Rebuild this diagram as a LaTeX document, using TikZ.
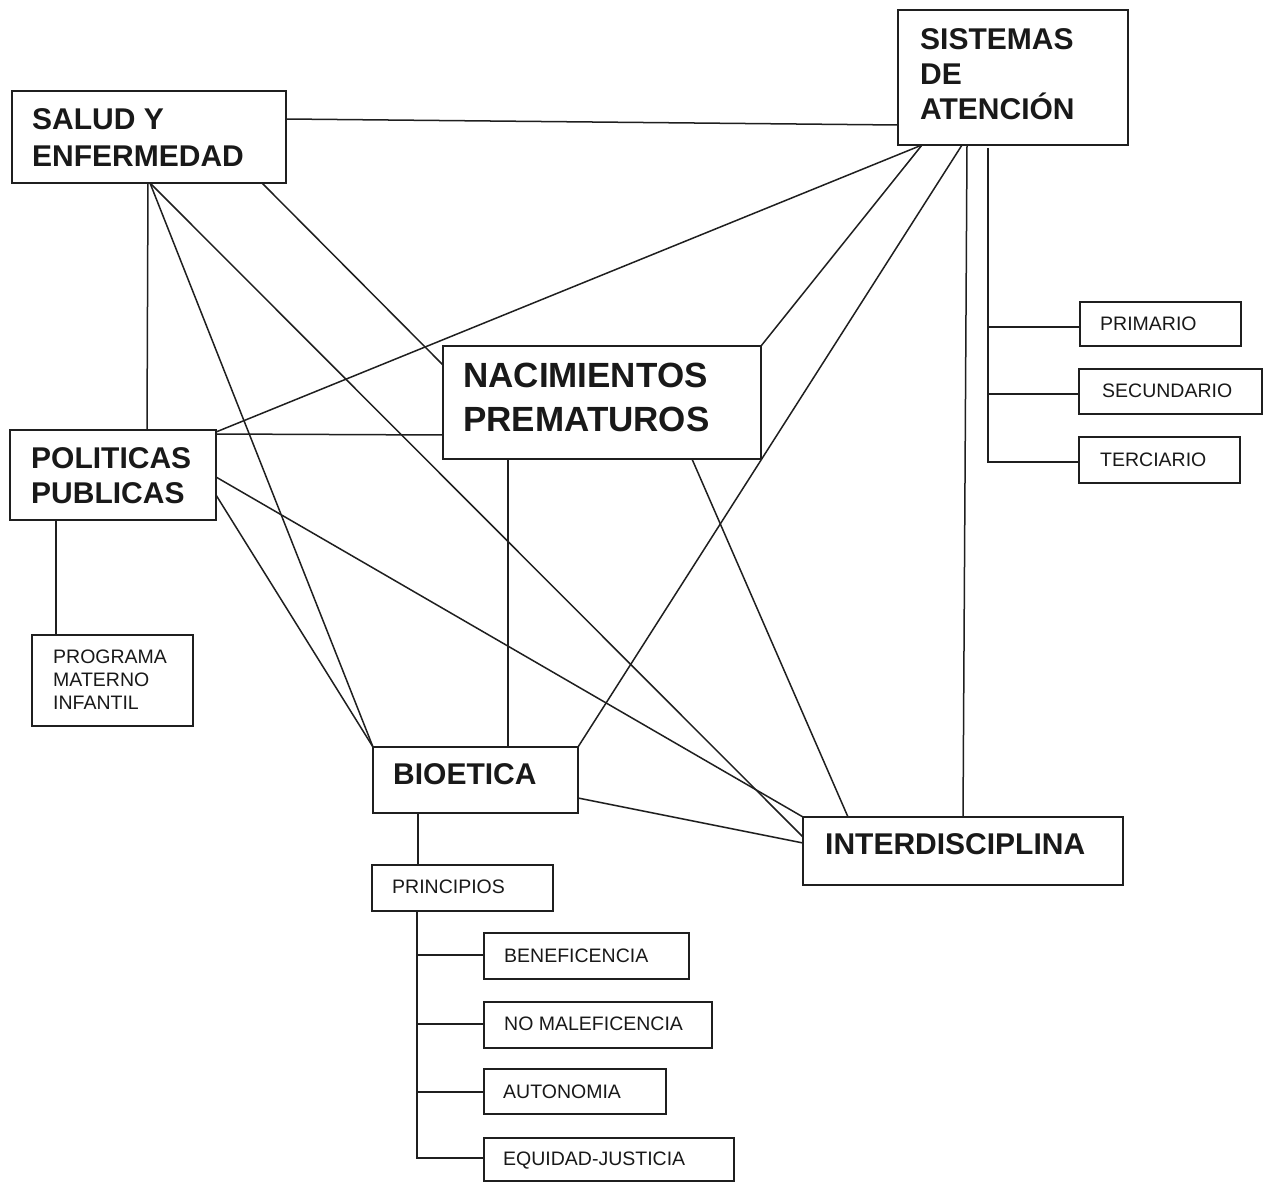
\documentclass[tikz,border=0pt]{standalone}
\usepackage{fontspec}
\setmainfont{Liberation Sans}
\usetikzlibrary{calc}
\begin{document}
\begin{tikzpicture}[x=1pt,y=-1pt,
  box/.style={draw=black!88, line width=1.6pt, rectangle, inner sep=0pt, outer sep=0pt, anchor=north west},
  big/.style={anchor=north west, inner sep=0pt, align=left, text=black!90, font=\fontsize{30}{36}\selectfont\bfseries},
  small/.style={anchor=north west, inner sep=0pt, align=left, text=black!90, font=\fontsize{19.5}{23}\selectfont},
  link/.style={line width=1.5pt, draw=black!88}]
\useasboundingbox (0,0) rectangle (1274,1182);
\fill[white] (0,0) rectangle (1274,1182);

% boxes
\node[box, minimum width=274pt, minimum height=92pt]  (salud)      at (12,91)    {};
\node[box, minimum width=230pt, minimum height=135pt] (sistemas)   at (898,10)   {};
\node[box, minimum width=318pt, minimum height=113pt] (nacim)      at (443,346)  {};
\node[box, minimum width=206pt, minimum height=90pt]  (politicas)  at (10,430)   {};
\node[box, minimum width=161pt, minimum height=91pt]  (programa)   at (32,635)   {};
\node[box, minimum width=205pt, minimum height=66pt]  (bioetica)   at (373,747)  {};
\node[box, minimum width=320pt, minimum height=68pt]  (inter)      at (803,817)  {};
\node[box, minimum width=181pt, minimum height=46pt]  (principios) at (372,865)  {};
\node[box, minimum width=205pt, minimum height=46pt]  (benef)      at (484,933)  {};
\node[box, minimum width=228pt, minimum height=46pt]  (nomal)      at (484,1002) {};
\node[box, minimum width=182pt, minimum height=45pt]  (autonomia)  at (484,1069) {};
\node[box, minimum width=250pt, minimum height=43pt]  (equidad)    at (484,1138) {};
\node[box, minimum width=161pt, minimum height=44pt]  (primario)   at (1080,302) {};
\node[box, minimum width=183pt, minimum height=45pt]  (secundario) at (1079,369) {};
\node[box, minimum width=161pt, minimum height=46pt]  (terciario)  at (1079,437) {};

% texts
\node[big, font=\fontsize{30}{37}\selectfont\bfseries] (saludT) at (32,108) {SALUD Y\\ENFERMEDAD};
\node[big, font=\fontsize{30}{35}\selectfont\bfseries] (sistemasT) at (920,28) {SISTEMAS\\DE\\ATENCIÓN};
\node[big, font=\fontsize{35}{44}\selectfont\bfseries] (nacimT) at (463,363) {NACIMIENTOS\\PREMATUROS};
\node[big, font=\fontsize{30}{35}\selectfont\bfseries] (politicasT) at (31,447) {POLITICAS\\PUBLICAS};
\node[small] (programaT) at (53,650) {PROGRAMA\\MATERNO\\INFANTIL};
\node[big] (bioeticaT) at (393,763) {BIOETICA};
\node[big] (interT) at (825,833) {INTERDISCIPLINA};
\node[small] (principiosT) at (392,880) {PRINCIPIOS};
\node[small] (benefT) at (504,949) {BENEFICENCIA};
\node[small] (nomalT) at (504,1017) {NO MALEFICENCIA};
\node[small] (autonomiaT) at (503,1085) {AUTONOMIA};
\node[small] (equidadT) at (503,1152) {EQUIDAD-JUSTICIA};
\node[small] (primarioT) at (1100,317) {PRIMARIO};
\node[small] (secundarioT) at (1102,384) {SECUNDARIO};
\node[small] (terciarioT) at (1100,453) {TERCIARIO};

% connectors
\draw[link] ($(salud.north east)+(0,28)$) -- ($(sistemas.north west)+(0,115)$);
\draw[link] ($(salud.south west)+(136,0)$) -- ($(politicas.north west)+(137,0)$);
\draw[link] ($(salud.south west)+(138,0)$) -- (bioetica.north west);
\draw[link] ($(salud.south west)+(138,0)$) -- ($(inter.north west)+(0,20)$);
\draw[link] ($(salud.south west)+(250,0)$) -- ($(nacim.north west)+(0,19)$);

\draw[link] ($(sistemas.south west)+(24,0)$) -- ($(politicas.north east)+(0,2)$);
\draw[link] ($(sistemas.south west)+(24,0)$) -- (nacim.north east);
\draw[link] ($(sistemas.south west)+(64,0)$) -- (bioetica.north east);
\draw[link] ($(sistemas.south west)+(69,0)$) -- ($(inter.north west)+(160,0)$);

\coordinate (sbr) at ($(sistemas.south west)+(90,3)$);
\coordinate (pIn) at ($(primario.north west)+(0,25)$);
\coordinate (sIn) at ($(secundario.north west)+(0,25)$);
\coordinate (tIn) at ($(terciario.north west)+(0,25)$);
\draw[link] (sbr) |- (tIn);
\draw[link] (sbr |- pIn) -- (pIn);
\draw[link] (sbr |- sIn) -- (sIn);

\draw[link] ($(politicas.north east)+(0,4)$) -- ($(nacim.north west)+(0,89)$);
\draw[link] ($(politicas.north east)+(0,47)$) -- (inter.north west);
\draw[link] ($(politicas.north east)+(0,65)$) -- (bioetica.north west);
\draw[link] ($(politicas.south west)+(46,0)$) -- ($(programa.north west)+(24,0)$);

\draw[link] ($(nacim.south west)+(65,0)$) -- ($(bioetica.north west)+(135,0)$);
\draw[link] ($(nacim.south west)+(249,0)$) -- ($(inter.north west)+(45,0)$);

\draw[link] ($(bioetica.north east)+(0,51)$) -- ($(inter.north west)+(0,26)$);
\draw[link] ($(bioetica.south west)+(45,0)$) -- ($(principios.north west)+(46,0)$);

\coordinate (pbr) at ($(principios.south west)+(45,0)$);
\coordinate (bIn) at ($(benef.north west)+(0,22)$);
\coordinate (nIn) at ($(nomal.north west)+(0,22)$);
\coordinate (aIn) at ($(autonomia.north west)+(0,23)$);
\coordinate (eIn) at ($(equidad.north west)+(0,20)$);
\draw[link] (pbr) |- (eIn);
\draw[link] (pbr |- bIn) -- (bIn);
\draw[link] (pbr |- nIn) -- (nIn);
\draw[link] (pbr |- aIn) -- (aIn);
\end{tikzpicture}
\end{document}
